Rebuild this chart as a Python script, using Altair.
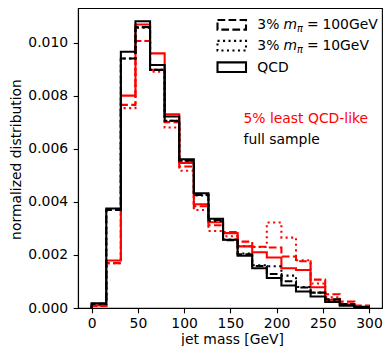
import altair as alt
import pandas as pd

# ---- data ----
n_bins = 19
bin_edges = [round(300 * k / n_bins, 4) for k in range(n_bins + 1)]

series_names = ["qcd_5", "m100_5", "m10_5", "qcd_full", "m100_full", "m10_full"]
series_color = ["red", "red", "red", "black", "black", "black"]
series_style = ["solid", "dashed", "dotted", "solid", "dashed", "dotted"]

qcd_5 = [0.00010, 0.00179, 0.00800, 0.01068, 0.00959, 0.00730, 0.00546, 0.00391, 0.00323,
         0.00282, 0.00232, 0.00210, 0.00190, 0.00150, 0.00143, 0.00078, 0.00031, 0.00013, 0.00003]
m100_5 = [0.00008, 0.00169, 0.00765, 0.01006, 0.00897, 0.00700, 0.00533, 0.00383, 0.00312,
          0.00286, 0.00250, 0.00231, 0.00228, 0.00194, 0.00176, 0.00107, 0.00052, 0.00024, 0.00009]
m10_5 = [0.00008, 0.00169, 0.00753, 0.01006, 0.00890, 0.00680, 0.00517, 0.00369, 0.00290,
         0.00270, 0.00233, 0.00230, 0.00322, 0.00265, 0.00180, 0.00092, 0.00040, 0.00015, 0.00005]
qcd_full = [0.00018, 0.00375, 0.00965, 0.01080, 0.00915, 0.00721, 0.00560, 0.00432, 0.00336,
            0.00257, 0.00197, 0.00150, 0.00113, 0.00085, 0.00062, 0.00043, 0.00023, 0.00009, 0.00004]
m100_full = [0.00016, 0.00369, 0.00940, 0.01058, 0.00897, 0.00705, 0.00555, 0.00426, 0.00332,
             0.00255, 0.00202, 0.00158, 0.00128, 0.00101, 0.00077, 0.00058, 0.00033, 0.00015, 0.00005]
m10_full = [0.00015, 0.00369, 0.00940, 0.01056, 0.00897, 0.00705, 0.00555, 0.00424, 0.00328,
            0.00258, 0.00205, 0.00161, 0.00157, 0.00122, 0.00079, 0.00058, 0.00028, 0.00012, 0.00004]
series_values = [qcd_5, m100_5, m10_5, qcd_full, m100_full, m10_full]

x_ticks = [0, 50, 100, 150, 200, 250, 300]
y_ticks = [0.0, 0.002, 0.004, 0.006, 0.008, 0.010]

legend_math = ["100", "10"]
legend_qcd = "QCD"
text_red = "5% least QCD-like"
text_black = "full sample"

FONT = "DejaVu Sans"
FS = 13.9
LW = 2.08

# ---- build step outlines ----
rows = []
for name, col, sty, vals in zip(series_names, series_color, series_style, series_values):
    pts = [(bin_edges[0], 0.0)]
    for k, v in enumerate(vals):
        pts.append((bin_edges[k], v))
    pts.append((bin_edges[-1], vals[-1]))
    pts.append((bin_edges[-1], 0.0))
    for i, (x, y) in enumerate(pts):
        rows.append({"series": name, "color": col, "style": sty, "idx": i, "x": x, "y": y})
df = pd.DataFrame(rows)

dash_scale = alt.Scale(domain=["solid", "dashed", "dotted"],
                       range=[[1, 0], [7.7, 3.33], [2.08, 3.44]])

PW, PH = 304, 300  # plot area
lines = alt.Chart(df).mark_line(interpolate="step-after", strokeWidth=LW, clip=True).encode(
    x=alt.X("x:Q", scale=alt.Scale(domain=[-14.8, 314.1], nice=False, zero=False),
            axis=alt.Axis(values=x_ticks, title="jet mass [GeV]", labelBaseline="alphabetic",
                          labelPadding=14.9, titleBaseline="alphabetic", titleY=35.0,
                          titleX=154)),
    y=alt.Y("y:Q", scale=alt.Scale(domain=[0, 0.0113], nice=False),
            axis=alt.Axis(values=y_ticks, format=".3f", title="normalized distribution",
                          labelPadding=5.5, titleAngle=270, titleBaseline="alphabetic",
                          titleAlign="center", titleX=-57.3, titleY=151)),
    color=alt.Color("color:N", scale=alt.Scale(domain=["red", "black"], range=["#ff0000", "#000000"]),
                    legend=None),
    strokeDash=alt.StrokeDash("style:N", scale=dash_scale, legend=None),
    detail="series:N",
    order="idx:Q",
)

OX, OY = 78, 8  # page position of plot origin


def txt(s, x, y, size=FS, color="black", style="normal"):
    return alt.Chart(pd.DataFrame({"t": [s]})).mark_text(
        align="left", baseline="alphabetic", font=FONT, fontSize=size, fontStyle=style, color=color
    ).encode(x=alt.value(x - OX), y=alt.value(y - OY), text="t:N")


def handle(style, yc):
    dash = {"solid": [1, 0], "dashed": [7.7, 3.33], "dotted": [2.08, 3.44]}[style]
    return alt.Chart(pd.DataFrame({"a": [0]})).mark_rect(
        fill="white", fillOpacity=0, stroke="black", strokeWidth=LW, strokeDash=dash
    ).encode(x=alt.value(217.5 - OX), x2=alt.value(246 - OX),
             y=alt.value(yc - 4.85 - OY), y2=alt.value(yc + 4.85 - OY))


layers = [lines]
baselines = [29.4, 50.3, 71.8]
for row, (num, sty) in enumerate(zip(legend_math, ["dashed", "dotted"])):
    b = baselines[row]
    layers.append(handle(sty, b - 4.6))
    layers.append(txt("3%", 257.3, b))
    layers.append(txt("m", 283.6, b, style="italic"))
    layers.append(txt("π", 297.0, b + 2.9, size=FS * 0.7, style="italic"))
    layers.append(txt("=", 307.0, b))
    layers.append(txt(num + "GeV", 322.4, b))
layers.append(handle("solid", baselines[2] - 4.6))
layers.append(txt(legend_qcd, 257.3, baselines[2]))
layers.append(txt(text_red, 243.5, 123.4, color="#ff0000"))
layers.append(txt(text_black, 243.5, 143.9))

chart = alt.layer(*layers).properties(
    width=PW, height=PH,
    autosize=alt.AutoSizeParams(type="none"),
    padding={"left": 70, "top": 0, "right": 1, "bottom": 38},
).configure_view(
    stroke="black", strokeWidth=1.11
).configure_axis(
    grid=False, domainColor="black", domainWidth=1.11, tickColor="black", tickWidth=1.11,
    tickSize=4.86, labelFont=FONT, labelFontSize=FS, labelColor="black",
    titleFont=FONT, titleFontSize=FS, titleFontWeight="normal", titleColor="black",
)

chart.save("out.html", embed_options={"renderer": "svg", "actions": False})
